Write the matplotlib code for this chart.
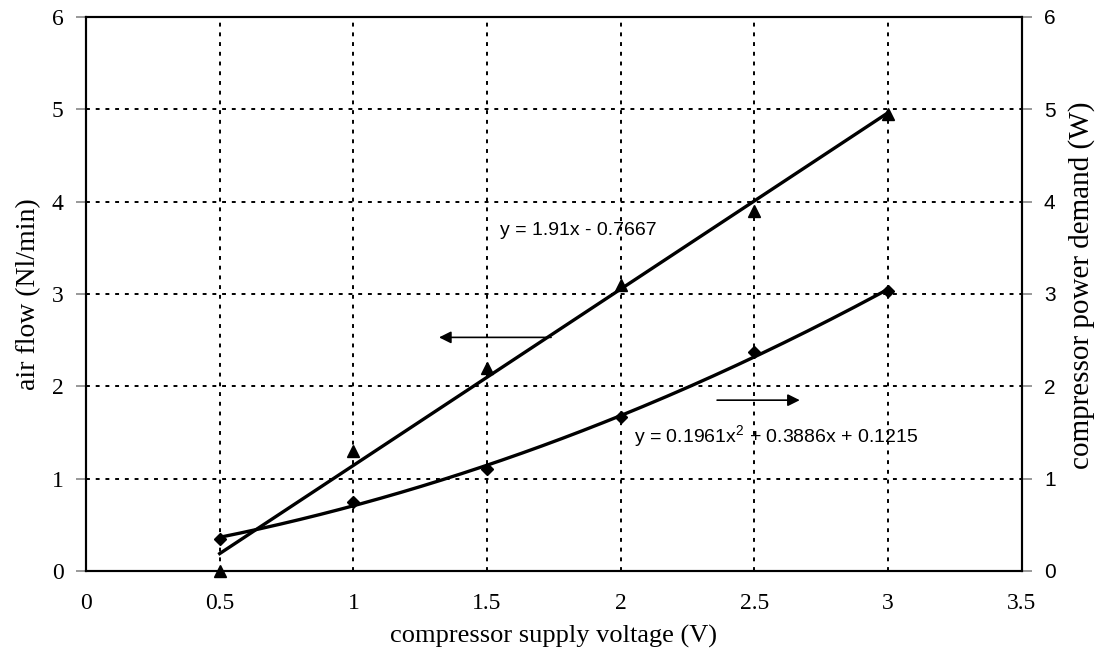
import matplotlib.pyplot as plt
import numpy as np

# Measured compressor data
voltage = [0.5, 1.0, 1.5, 2.0, 2.5, 3.0]
air_flow = [0.0, 1.3, 2.2, 3.1, 3.9, 4.95]
power = [0.35, 0.75, 1.1, 1.67, 2.37, 3.03]

# Trendline coefficients
lin_coef = [1.91, -0.7667]
quad_coef = [0.1961, 0.3886, 0.1215]

serif = 'Liberation Serif'
sans = 'Liberation Sans'

# superscript in the equation uses the same sans font
plt.rcParams['mathtext.fontset'] = 'custom'
plt.rcParams['mathtext.rm'] = sans
plt.rcParams['mathtext.it'] = sans

fig = plt.figure(figsize=(11.07, 6.56), dpi=100)
ax = fig.add_axes([0.0777, 0.1296, 0.8453, 0.8445])
ax2 = ax.twinx()

xs = np.linspace(0.5, 3.0, 200)
ax.plot(xs, np.polyval(lin_coef, xs), color='black', lw=2.4, zorder=3)
ax.plot(voltage, air_flow, linestyle='none', marker='^', color='black', markersize=8,
        zorder=4, clip_on=False)

ax2.plot(xs, np.polyval(quad_coef, xs), color='black', lw=2.4, zorder=3)
ax2.plot(voltage, power, linestyle='none', marker='D', color='black', markersize=6.5,
         zorder=4, clip_on=False)

for a in (ax, ax2):
    a.set_xlim(0, 3.5)
    a.set_ylim(0, 6)
    a.set_yticks(range(0, 7))

ax.set_xticks([0, 0.5, 1, 1.5, 2, 2.5, 3, 3.5])
ax.set_xticklabels(['0', '0.5', '1', '1.5', '2', '2.5', '3', '3.5'])
ax.grid(True, color='black', linestyle=(0, (2, 3)), linewidth=1.4)

ax.tick_params(axis='x', length=0, pad=16, labelsize=17)
ax.tick_params(axis='y', length=7, color='#888888', width=1.2, labelsize=17, pad=9)
ax2.tick_params(axis='y', length=7, color='#888888', width=1.2, labelsize=15, pad=9)
for lbl in ax.get_xticklabels() + ax.get_yticklabels():
    lbl.set_family(serif)
for lbl in ax2.get_yticklabels():
    lbl.set_family(sans)

for a in (ax, ax2):
    for s in a.spines.values():
        s.set_linewidth(1.5)

ax.set_xlabel('compressor supply voltage (V)', fontsize=19, family=serif, labelpad=8)
ax.set_ylabel('air flow (Nl/min)', fontsize=20, family=serif, labelpad=8)
ax2.set_ylabel('compressor power demand (W)', fontsize=21, family=serif, labelpad=8)
ax2.yaxis.set_label_coords(1.05, 0.515)

# Trendline equations
ax.text(1.55, 3.69, 'y = 1.91x - 0.7667', fontsize=14, family=sans, va='center', zorder=5)
ax.text(2.05, 1.46, 'y = 0.1961x$\\mathregular{^2}$ + 0.3886x + 0.1215', fontsize=14,
        family=sans, va='center', zorder=5)

# Arrows pointing to the matching axis
ax.annotate('', xy=(1.31, 2.53), xytext=(1.75, 2.53),
            arrowprops=dict(arrowstyle='-|>', color='black', lw=1.2, mutation_scale=18))
ax.annotate('', xy=(2.68, 1.85), xytext=(2.35, 1.85),
            arrowprops=dict(arrowstyle='-|>', color='black', lw=1.2, mutation_scale=18))

fig.savefig('out.png', dpi=100)
